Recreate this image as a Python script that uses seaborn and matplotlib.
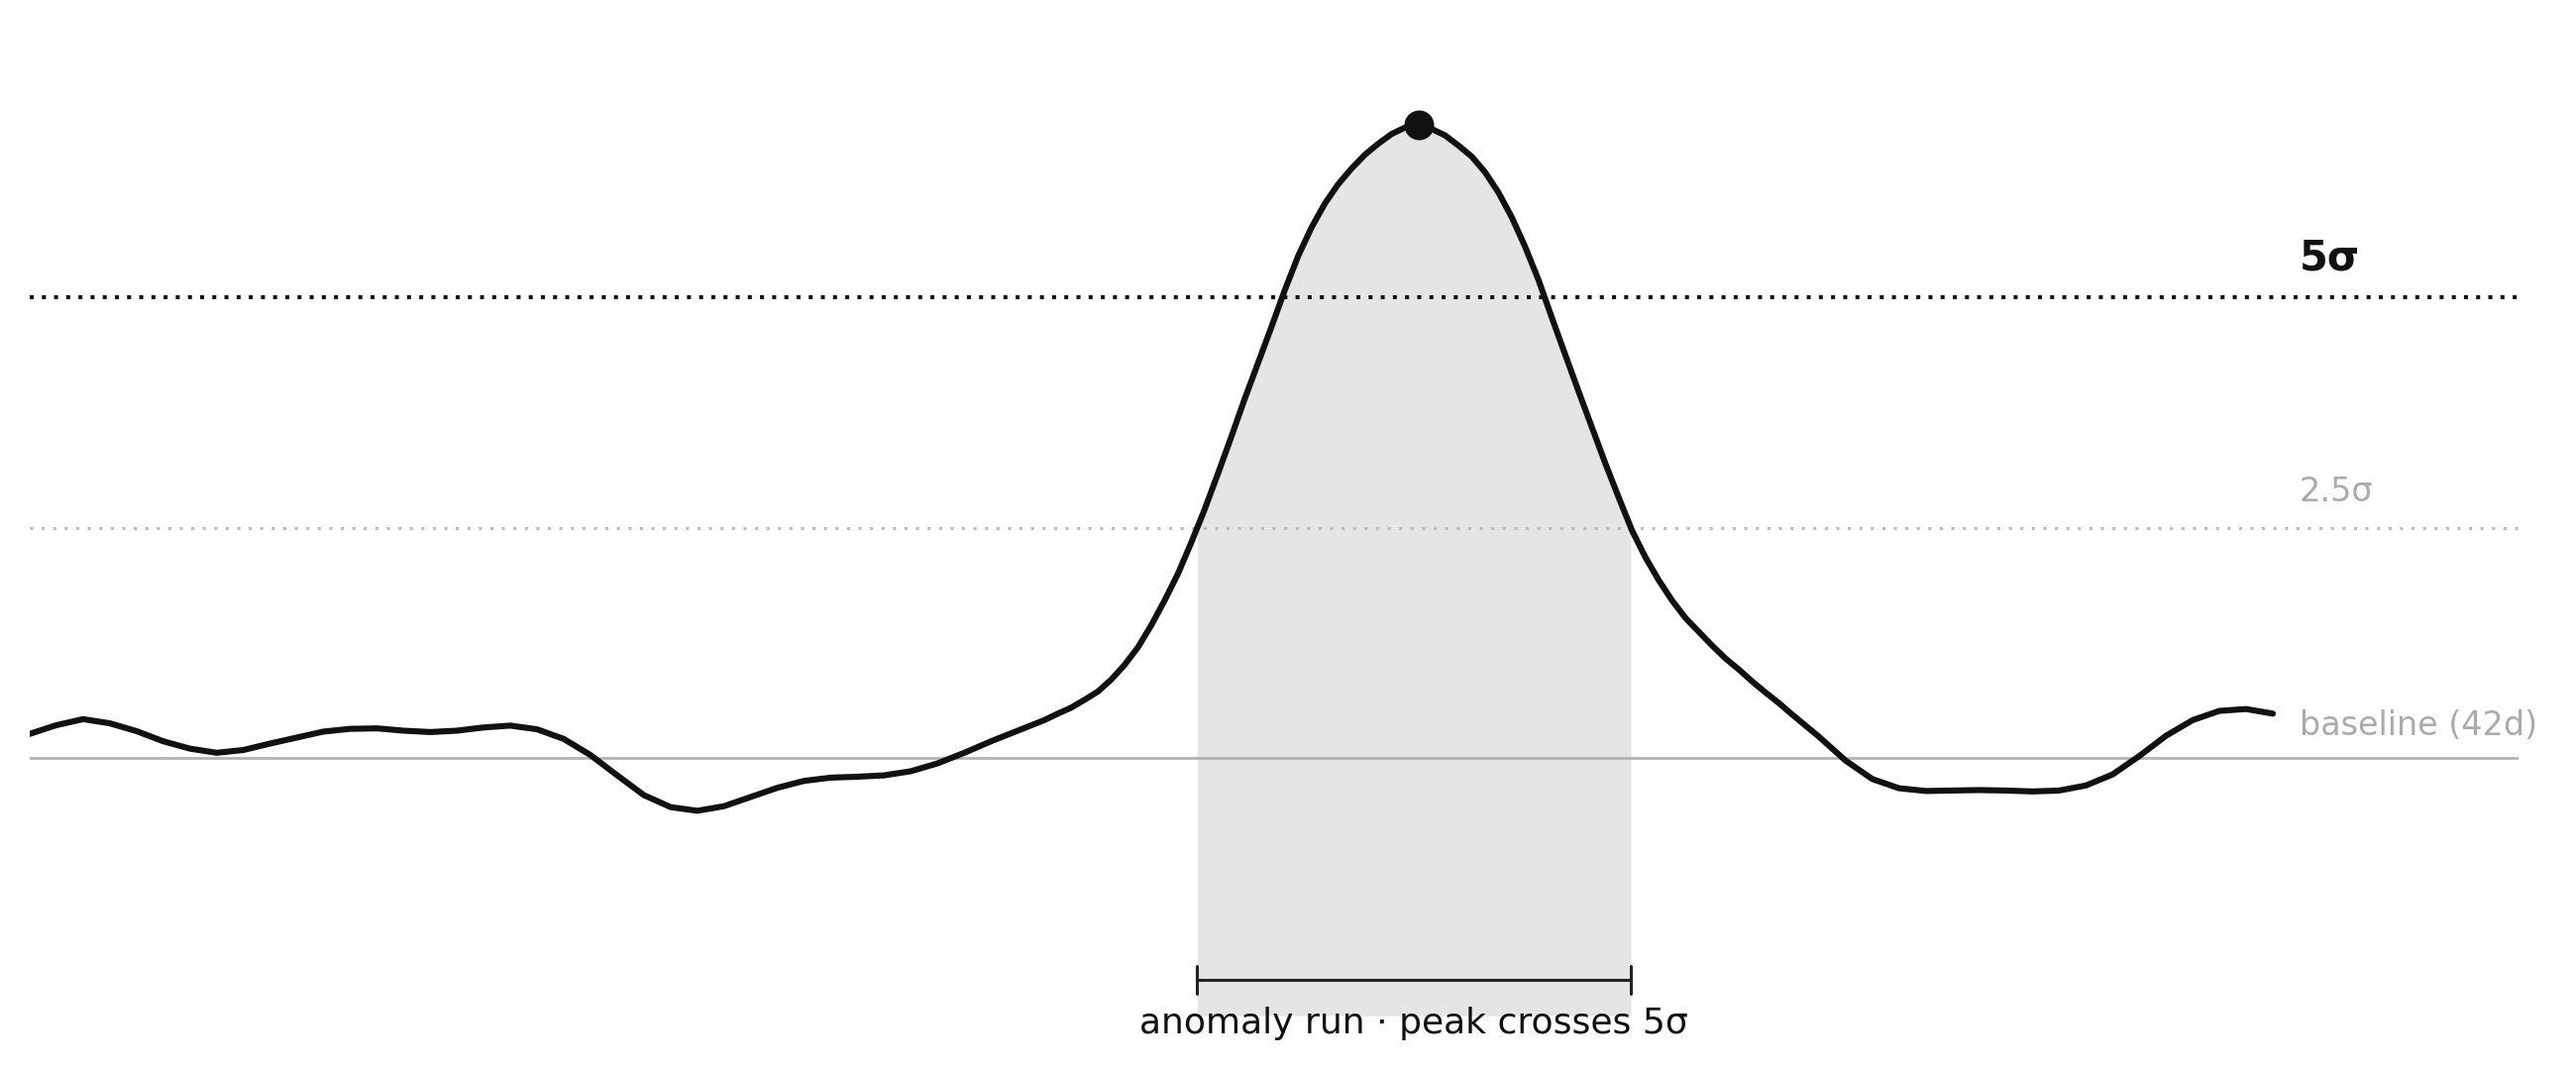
import numpy as np
import matplotlib
matplotlib.use("Agg")
import matplotlib.pyplot as plt
import seaborn as sns

# z-score vs the 42 day baseline; read every half day, every quarter day around the spike
days = np.concatenate([np.arange(0, 19, 0.5),
                       np.arange(19, 34, 0.25),
                       np.arange(34, 42.5, 0.5)])
zscore = [
    # days 0 - 18.5
    0.26, 0.355, 0.42, 0.375, 0.29, 0.18, 0.10, 0.055, 0.085, 0.155,
    0.22, 0.285, 0.315, 0.32, 0.295, 0.28, 0.295, 0.33, 0.35, 0.31,
    0.205, 0.03, -0.19, -0.405, -0.535, -0.575, -0.525, -0.425, -0.325, -0.25,
    -0.215, -0.205, -0.19, -0.145, -0.06, 0.055, 0.18, 0.295,
    # days 19 - 33.75
    0.41, 0.48, 0.545, 0.63, 0.72, 0.85, 1.01, 1.20, 1.44, 1.71,
    2.00, 2.34, 2.70, 3.09, 3.49, 3.90, 4.29, 4.68, 5.08, 5.45,
    5.76, 6.02, 6.23, 6.40, 6.55, 6.67, 6.775, 6.845, 6.87, 6.83,
    6.76, 6.65, 6.53, 6.36, 6.14, 5.87, 5.55, 5.19, 4.78, 4.38,
    3.98, 3.59, 3.20, 2.83, 2.47, 2.18, 1.93, 1.71, 1.52, 1.37,
    1.22, 1.08, 0.96, 0.83, 0.71, 0.595, 0.47, 0.35, 0.23, 0.10,
    # days 34 - 42
    -0.03, -0.23, -0.33, -0.36, -0.355, -0.35, -0.355, -0.365, -0.355, -0.30,
    -0.18, 0.02, 0.24, 0.41, 0.51, 0.53, 0.48,
]
warn_level = 2.5
alert_level = 5.0
warn_label = "2.5σ"
alert_label = "5σ"
baseline_label = "baseline (42d)"
run_label = "anomaly run · peak crosses 5σ"

INK = "#111111"
GREY = "#aaaaaa"

sns.set_style("white")
fig = plt.figure(figsize=(13, 5.4), dpi=200)
ax = fig.add_axes([30 / 2600, 0, 2512 / 2600, 1])
ax.axis("off")
ax.set_xlim(0, 46.6)
ax.set_ylim(-3.39, 8.23)

z = np.array(zscore)

# edges of the run, where the curve crosses the warning level
above = np.where(z >= warn_level)[0]
i0, i1 = above[0], above[-1]
left = np.interp(warn_level, [z[i0 - 1], z[i0]], [days[i0 - 1], days[i0]])
right = np.interp(warn_level, [z[i1 + 1], z[i1]], [days[i1 + 1], days[i1]])

run_x = np.concatenate([[left], days[above], [right]])
run_z = np.concatenate([[warn_level], z[above], [warn_level]])
ax.fill_between(run_x, -2.8, run_z, color="#e5e5e5", lw=0, zorder=1)

ax.axhline(0, color="#b3b3b3", lw=1.0, zorder=2)
ax.axhline(warn_level, color="#bbbbbb", lw=1.1, ls=(0, (1, 2.8)), zorder=2)
ax.axhline(alert_level, color=INK, lw=1.45, ls=(0, (1, 2.05)), zorder=2)

sns.lineplot(x=days, y=z, ax=ax, color=INK, lw=2.2,
             solid_capstyle="round", solid_joinstyle="round", zorder=4)

peak = z.argmax()
ax.scatter([days[peak]], [z[peak]], s=117, color=INK, linewidths=0, zorder=5)

br_y = -2.41
ax.plot([left, right], [br_y, br_y], color="#222222", lw=1.1, zorder=3)
for xb in (left, right):
    ax.plot([xb, xb], [br_y - 0.155, br_y + 0.155], color="#222222", lw=1.1, zorder=3)
ax.text((left + right) / 2, -2.99, run_label, ha="center", va="baseline",
        fontsize=13, color=INK)

ax.text(42.5, alert_level + 0.43, alert_label, ha="left", va="center",
        fontsize=15, fontweight="bold", color=INK)
ax.text(42.5, warn_level + 0.39, warn_label, ha="left", va="center",
        fontsize=12, color=GREY)
ax.text(42.5, 0.35, baseline_label, ha="left", va="center",
        fontsize=12, color=GREY)

fig.savefig("out.png", dpi=200)
